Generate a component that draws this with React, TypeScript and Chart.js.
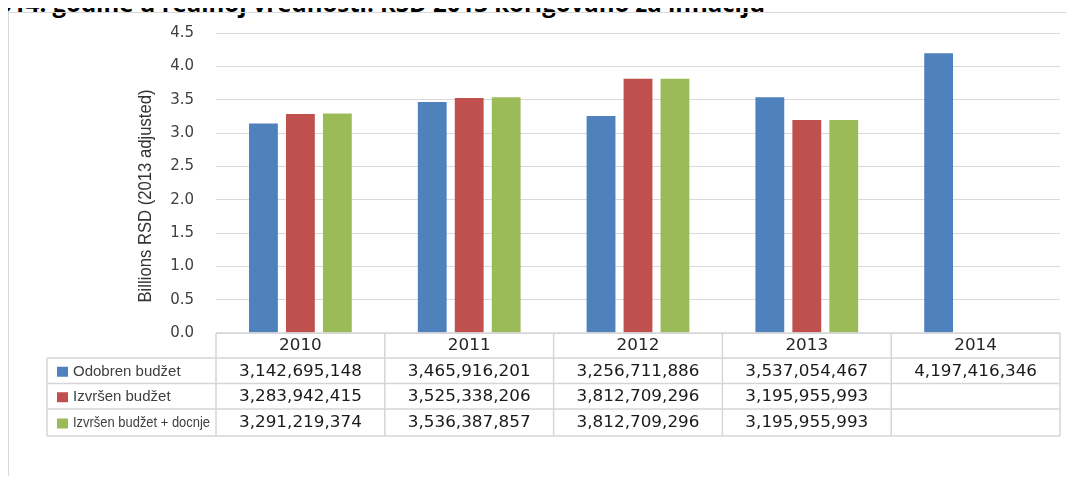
import React, { useEffect, useRef } from "react";
import { Chart, registerables } from "chart.js";

Chart.register(...registerables);

const categories = ["2010", "2011", "2012", "2013", "2014"];
const seriesNames = ["Odobren budžet", "Izvršen budžet", "Izvršen budžet + docnje"];
const odobrenBudzet = [3142695148, 3465916201, 3256711886, 3537054467, 4197416346];
const izvrsenBudzet = [3283942415, 3525338206, 3812709296, 3195955993, null];
const izvrsenDocnje = [3291219374, 3536387857, 3812709296, 3195955993, null];
const seriesColors = ["#4F81BD", "#C0504D", "#9BBB59"];
const yMin = 0;
const yMax = 4.5;
const yStep = 0.5;
const yAxisTitle = "Billions RSD (2013 adjusted)";
const chartTitle = "Budžet 2010–2014. godine u realnoj vrednosti. RSD 2013 korigovano za inflaciju";

const allSeries = [odobrenBudzet, izvrsenBudzet, izvrsenDocnje];

const fmt = (v: number | null) => (v == null ? "" : v.toLocaleString("en-US"));

const tablePlugin = {
  id: "dataTable",
  afterDraw(chart: any) {
    const ctx = chart.ctx;
    const area = chart.chartArea;
    const xs = chart.scales.x;
    const n = categories.length;
    const cw = (area.right - area.left) / n;
    const rowEdges = [area.bottom, area.bottom + 25, area.bottom + 50.5, area.bottom + 76, area.bottom + 103];
    const legendLeft = 47;
    ctx.save();
    ctx.strokeStyle = "#d6d6d6";
    ctx.lineWidth = 1.5;
    ctx.beginPath();
    ctx.moveTo(area.left, rowEdges[0]);
    ctx.lineTo(area.right, rowEdges[0]);
    for (let r = 1; r < rowEdges.length; r++) {
      ctx.moveTo(legendLeft, rowEdges[r]);
      ctx.lineTo(area.right, rowEdges[r]);
    }
    ctx.moveTo(legendLeft, rowEdges[1]);
    ctx.lineTo(legendLeft, rowEdges[4]);
    for (let i = 0; i <= n; i++) {
      const x = area.left + i * cw;
      ctx.moveTo(x, rowEdges[0]);
      ctx.lineTo(x, rowEdges[4]);
    }
    ctx.stroke();

    ctx.textBaseline = "middle";
    ctx.textAlign = "center";
    const stretched = (text: string, cx: number, cy: number, sx: number) => {
      ctx.save();
      ctx.translate(cx, cy);
      ctx.scale(sx, 1);
      ctx.fillText(text, 0, 0);
      ctx.restore();
    };
    ctx.font = "15px 'DejaVu Sans'";
    ctx.fillStyle = "#262626";
    categories.forEach((c, i) => {
      stretched(c, xs.getPixelForValue(i), (rowEdges[0] + rowEdges[1]) / 2 + 1, 1.12);
    });
    allSeries.forEach((s, r) => {
      const cy = (rowEdges[r + 1] + rowEdges[r + 2]) / 2 + 1;
      ctx.font = "15px 'DejaVu Sans'";
      ctx.fillStyle = "#1a1a1a";
      ctx.textAlign = "center";
      s.forEach((v, i) => {
        if (v != null) stretched(fmt(v), xs.getPixelForValue(i), cy, 1.12);
      });
      ctx.fillStyle = seriesColors[r];
      ctx.fillRect(57, cy - 5, 11, 10);
      ctx.fillStyle = "#404040";
      ctx.textAlign = "left";
      if (r < 2) {
        ctx.font = "15px 'Liberation Sans'";
        ctx.fillText(seriesNames[r], 73, cy, 116);
      } else {
        ctx.font = "14px 'Liberation Sans'";
        ctx.fillText(seriesNames[r], 73, cy, 137);
      }
    });

    ctx.save();
    ctx.translate(146, (area.top + area.bottom) / 2 + 13);
    ctx.rotate(-Math.PI / 2);
    ctx.textAlign = "center";
    ctx.textBaseline = "middle";
    ctx.font = "19px 'Liberation Sans'";
    ctx.fillStyle = "#333333";
    ctx.fillText(yAxisTitle, 0, 0, 213);
    ctx.restore();
    ctx.restore();
  },
};

export default function App() {
  const canvasRef = useRef<HTMLCanvasElement | null>(null);

  useEffect(() => {
    if (!canvasRef.current) return;
    const chart = new Chart(canvasRef.current, {
      type: "bar",
      data: {
        labels: categories,
        datasets: allSeries.map((s, i) => ({
          label: seriesNames[i],
          data: s.map((v) => (v == null ? null : v / 1e9)),
          backgroundColor: seriesColors[i],
          borderWidth: 0,
          categoryPercentage: 0.657,
          barPercentage: 0.78,
        })),
      },
      options: {
        responsive: false,
        animation: false,
        layout: { padding: { left: 136, right: 14, top: 33, bottom: 151 } },
        plugins: {
          legend: { display: false },
          title: { display: false },
          tooltip: { enabled: false },
        },
        scales: {
          x: { display: false },
          y: {
            min: yMin,
            max: yMax,
            afterFit: (scale: any) => {
              scale.width = 80;
            },
            border: { display: false },
            grid: { color: "#d9d9d9", lineWidth: 1, drawTicks: false },
            ticks: {
              stepSize: yStep,
              padding: 22,
              color: "#404040",
              font: { family: "'DejaVu Sans'", size: 15 },
              callback: (v: any) => Number(v).toFixed(1),
            },
          },
        },
      },
      plugins: [tablePlugin],
    });
    return () => chart.destroy();
  }, []);

  return (
    <div
      style={{
        position: "relative",
        width: 1074,
        height: 484,
        margin: -8,
        overflow: "hidden",
        background: "#ffffff",
      }}
    >
      <div
        style={{
          position: "absolute",
          right: 309,
          top: -14,
          whiteSpace: "nowrap",
          fontFamily: "'Open Sans', sans-serif",
          fontWeight: 700,
          fontSize: 24,
          color: "#000",
        }}
      >
        {chartTitle}
      </div>
      <div
        style={{
          position: "absolute",
          left: 8,
          top: 12,
          right: 0,
          bottom: 0,
          borderLeft: "1.5px solid #d9d9d9",
          borderTop: "1.5px solid #d9d9d9",
        }}
      />
      <canvas
        ref={canvasRef}
        width={1074}
        height={484}
        style={{ position: "absolute", left: 0, top: 0, width: 1074, height: 484 }}
      />
    </div>
  );
}
